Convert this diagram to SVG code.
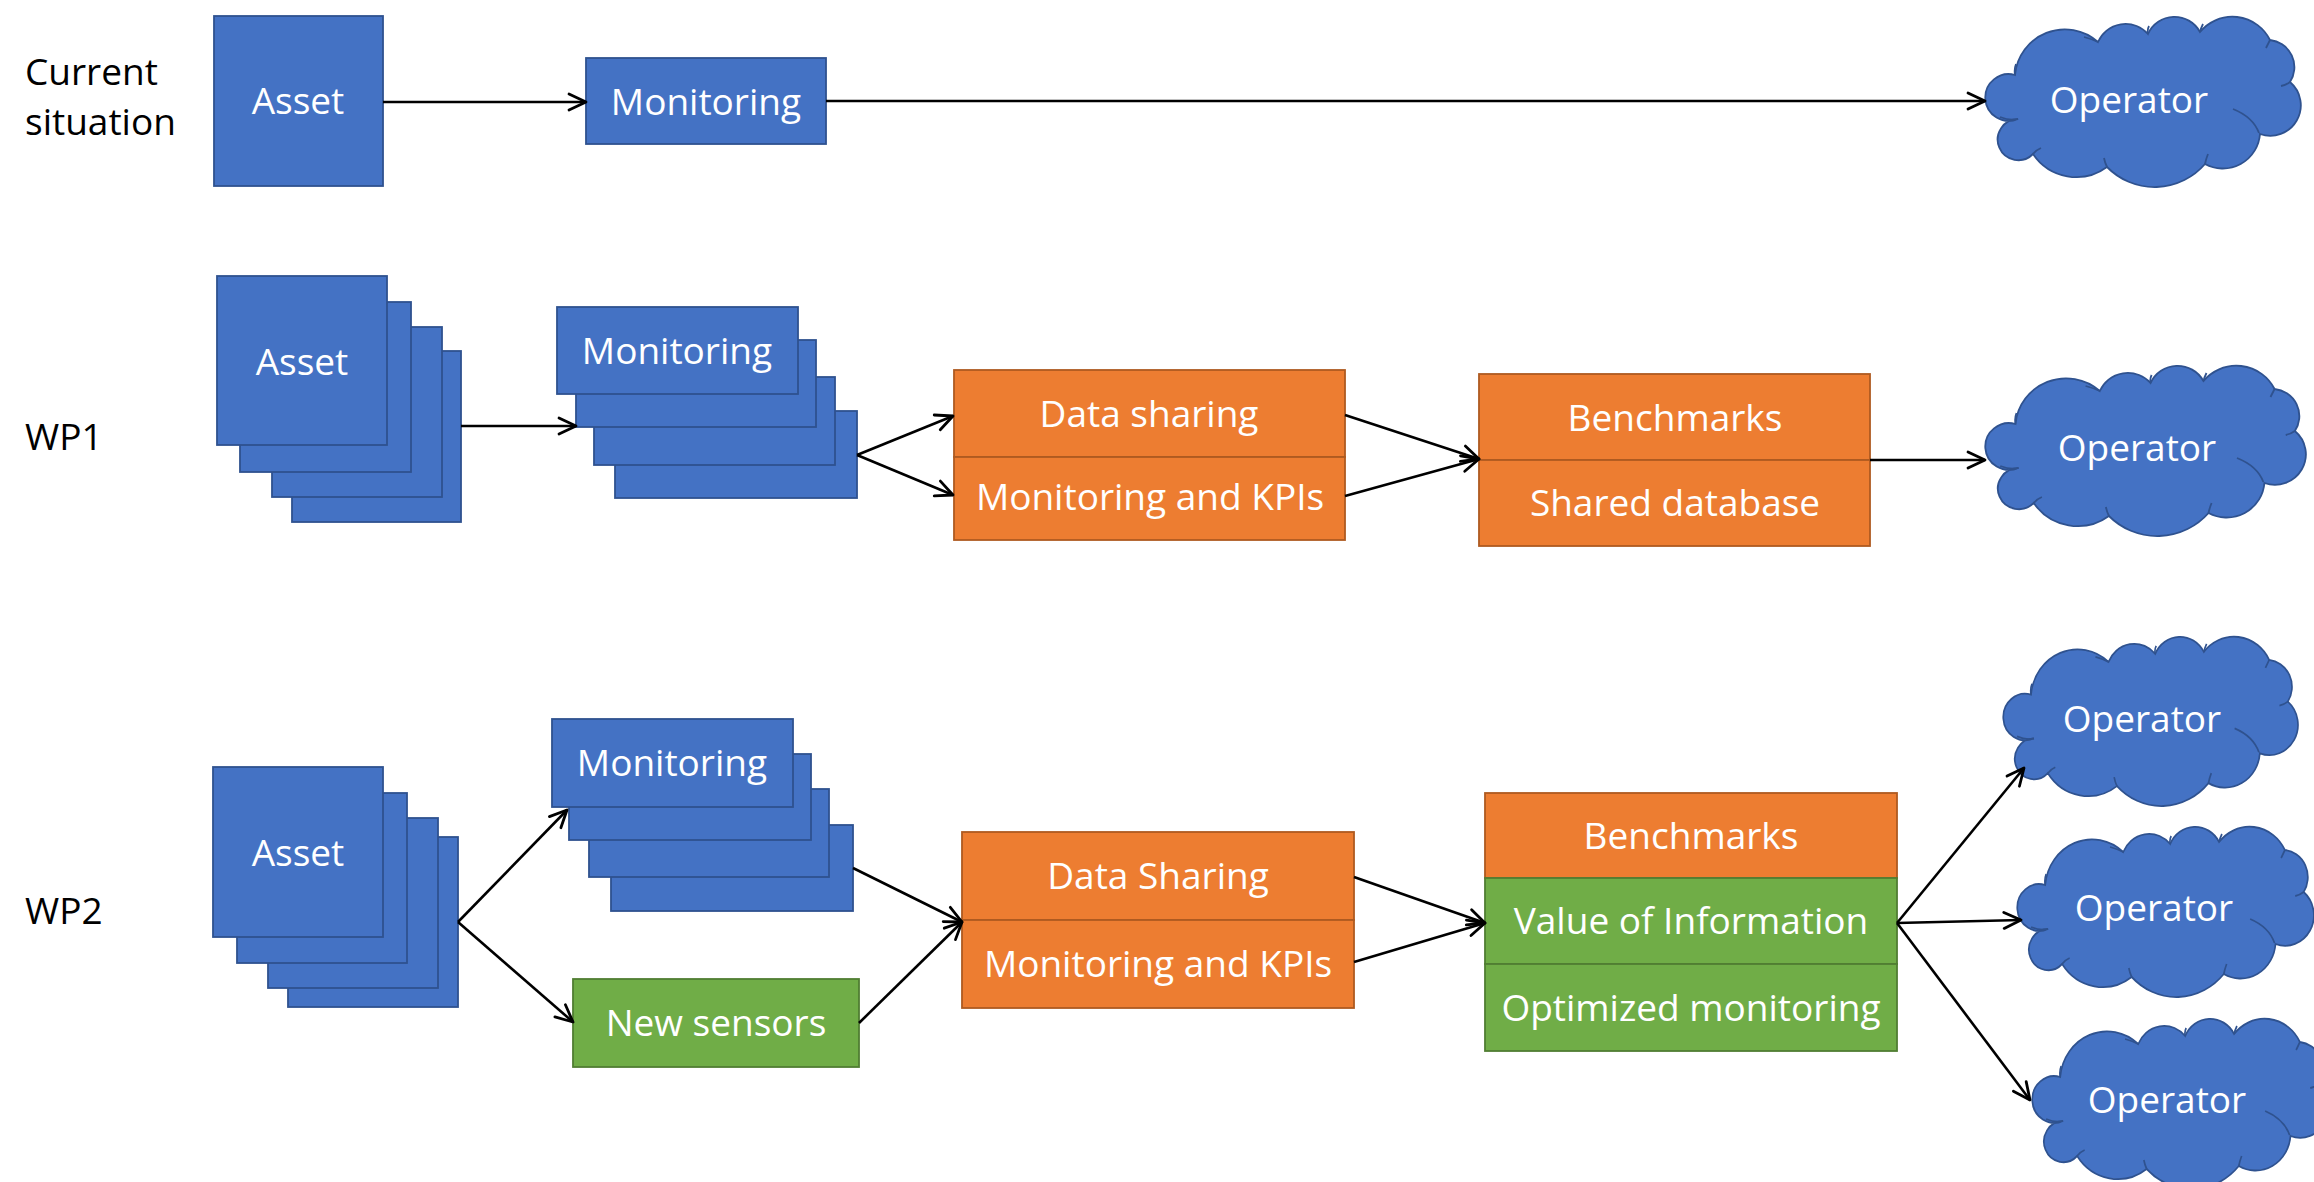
<svg xmlns="http://www.w3.org/2000/svg" width="2314" height="1182" viewBox="0 0 2314 1182">
<style>
  .blue{fill:#4472C4;stroke:#2F528F;stroke-width:1.8}
  .orange{fill:#ED7D31;stroke:#AE5A21;stroke-width:1.8}
  .green{fill:#70AD47;stroke:#507E32;stroke-width:1.8}
  .t{font-family:"Open Sans","Noto Sans",sans-serif;font-size:37px;fill:#FFFFFF;text-anchor:middle}
  .lbl{font-family:"Open Sans","Noto Sans",sans-serif;font-size:37px;fill:#000000}
  .conn path,.conn line{stroke:#000;stroke-width:2.6;fill:none;marker-end:url(#arr)}
  .cloud{fill:#4472C4;stroke:#2F528F;stroke-width:1.8}
  .tick{fill:none;stroke:#2F528F;stroke-width:1.8}
</style>
<defs>
  <marker id="arr" markerUnits="userSpaceOnUse" viewBox="0 0 22 20" markerWidth="22" markerHeight="20" refX="20" refY="10" orient="auto">
    <path d="M3,2 L20,10 L3,18" fill="none" stroke="#000" stroke-width="2.8" stroke-linecap="round" stroke-linejoin="round"/>
  </marker>
  <g id="cloudShape">
    <path class="cloud" d="M33,102 A23.4,23.4 0 1 1 30,58 A50,50 0 0 1 113,25 A30,30 0 0 1 163,17 A29,29 0 0 1 215,15 A42,42 0 0 1 285,23 A27.3,27.3 0 0 1 305,65 A30.5,30.5 0 0 1 275,117 A37.3,37.3 0 0 1 220,147 A66.6,66.6 0 0 1 122,150 A52,52 0 0 1 48,137 A20.6,20.6 0 1 1 33,102 Z"/>
    <path class="tick" d="M15,100 Q25,104 33,102 M30,58 Q29,52 31,47 M99,20 Q107,22 113,25 M163,17 Q162,13 164,9 M215,15 Q216,11 218,7 M285,23 Q283,27 281,31 M305,65 Q301,68 296,69 M248,92 Q268,100 274,116 M220,147 Q221,142 223,137 M122,150 Q120,146 119,141 M48,137 Q51,133 56,131"/>
  </g>
</defs>
<rect width="2314" height="1182" fill="#FFFFFF"/>

<!-- row labels -->
<g id="label-current">
  <text class="lbl" x="25" y="85">Current</text>
  <text class="lbl" x="25" y="135">situation</text>
</g>
<g id="label-wp1"><text class="lbl" x="25" y="450">WP1</text></g>
<g id="label-wp2"><text class="lbl" x="25" y="924">WP2</text></g>

<!-- Row 1 -->
<g id="asset-0">
  <rect class="blue" x="214" y="16" width="169" height="170"/>
  <text class="t" x="298" y="114">Asset</text>
</g>
<g id="monitoring-0">
  <rect class="blue" x="586" y="58" width="240" height="86"/>
  <text class="t" x="706" y="115">Monitoring</text>
</g>
<g id="operator-0">
  <use href="#cloudShape" transform="translate(1985,17)"/>
  <text class="t" x="2129" y="113">Operator</text>
</g>

<!-- Row 2 (WP1) -->
<g id="asset-1">
  <rect class="blue" x="292" y="351" width="169" height="171"/>
  <rect class="blue" x="272" y="327" width="170" height="170"/>
  <rect class="blue" x="240" y="302" width="171" height="170"/>
  <rect class="blue" x="217" y="276" width="170" height="169"/>
  <text class="t" x="302" y="375">Asset</text>
</g>
<g id="monitoring-1">
  <rect class="blue" x="615" y="411" width="242" height="87"/>
  <rect class="blue" x="594" y="377" width="241" height="88"/>
  <rect class="blue" x="576" y="340" width="240" height="87"/>
  <rect class="blue" x="557" y="307" width="241" height="87"/>
  <text class="t" x="677" y="364">Monitoring</text>
</g>
<g id="datasharing-1">
  <rect class="orange" x="954" y="370" width="391" height="87"/>
  <rect class="orange" x="954" y="457" width="391" height="83"/>
  <text class="t" x="1149" y="427">Data sharing</text>
  <text class="t" x="1150" y="510">Monitoring and KPIs</text>
</g>
<g id="benchmarks-1">
  <rect class="orange" x="1479" y="374" width="391" height="86"/>
  <rect class="orange" x="1479" y="460" width="391" height="86"/>
  <text class="t" x="1675" y="431">Benchmarks</text>
  <text class="t" x="1675" y="516">Shared database</text>
</g>
<g id="operator-1">
  <use href="#cloudShape" transform="translate(1985,366) scale(1.016,1)"/>
  <text class="t" x="2137" y="461">Operator</text>
</g>

<!-- Row 3 (WP2) -->
<g id="asset-2">
  <rect class="blue" x="288" y="837" width="170" height="170"/>
  <rect class="blue" x="268" y="818" width="170" height="170"/>
  <rect class="blue" x="237" y="793" width="170" height="170"/>
  <rect class="blue" x="213" y="767" width="170" height="170"/>
  <text class="t" x="298" y="866">Asset</text>
</g>
<g id="monitoring-2">
  <rect class="blue" x="611" y="825" width="242" height="86"/>
  <rect class="blue" x="589" y="789" width="240" height="88"/>
  <rect class="blue" x="569" y="754" width="242" height="86"/>
  <rect class="blue" x="552" y="719" width="241" height="88"/>
  <text class="t" x="672" y="776">Monitoring</text>
</g>
<g id="newsensors-2">
  <rect class="green" x="573" y="979" width="286" height="88"/>
  <text class="t" x="716" y="1036">New sensors</text>
</g>
<g id="datasharing-2">
  <rect class="orange" x="962" y="832" width="392" height="88"/>
  <rect class="orange" x="962" y="920" width="392" height="88"/>
  <text class="t" x="1158" y="889">Data Sharing</text>
  <text class="t" x="1158" y="977">Monitoring and KPIs</text>
</g>
<g id="benchmarks-2">
  <rect class="orange" x="1485" y="793" width="412" height="85"/>
  <rect class="green" x="1485" y="878" width="412" height="86"/>
  <rect class="green" x="1485" y="964" width="412" height="87"/>
  <text class="t" x="1691" y="849">Benchmarks</text>
  <text class="t" x="1691" y="934">Value of Information</text>
  <text class="t" x="1691" y="1021">Optimized monitoring</text>
</g>
<g id="operator-2a">
  <use href="#cloudShape" transform="translate(2003,637) scale(0.934,0.994)"/>
  <text class="t" x="2142" y="732">Operator</text>
</g>
<g id="operator-2b">
  <use href="#cloudShape" transform="translate(2017,827) scale(0.94,1)"/>
  <text class="t" x="2154" y="921">Operator</text>
</g>
<g id="operator-2c">
  <use href="#cloudShape" transform="translate(2032,1019) scale(0.94,1)"/>
  <text class="t" x="2167" y="1113">Operator</text>
</g>

<!-- connectors -->
<g id="connectors" class="conn">
  <line x1="383" y1="102" x2="586" y2="102"/>
  <line x1="826" y1="101" x2="1985" y2="101"/>

  <line x1="461" y1="426" x2="576" y2="426"/>
  <line x1="857" y1="455" x2="953" y2="416"/>
  <line x1="857" y1="455" x2="953" y2="495"/>
  <line x1="1345" y1="415" x2="1479" y2="459"/>
  <line x1="1345" y1="496" x2="1479" y2="459"/>
  <line x1="1870" y1="460" x2="1985" y2="460"/>

  <line x1="458" y1="922" x2="567" y2="810"/>
  <line x1="458" y1="922" x2="573" y2="1022"/>
  <line x1="853" y1="868" x2="962" y2="922"/>
  <line x1="859" y1="1023" x2="962" y2="922"/>
  <line x1="1354" y1="877" x2="1485" y2="923"/>
  <line x1="1354" y1="962" x2="1485" y2="923"/>
  <line x1="1897" y1="923" x2="2024" y2="768"/>
  <line x1="1897" y1="923" x2="2021" y2="920"/>
  <line x1="1897" y1="923" x2="2030" y2="1100"/>
</g>
</svg>
